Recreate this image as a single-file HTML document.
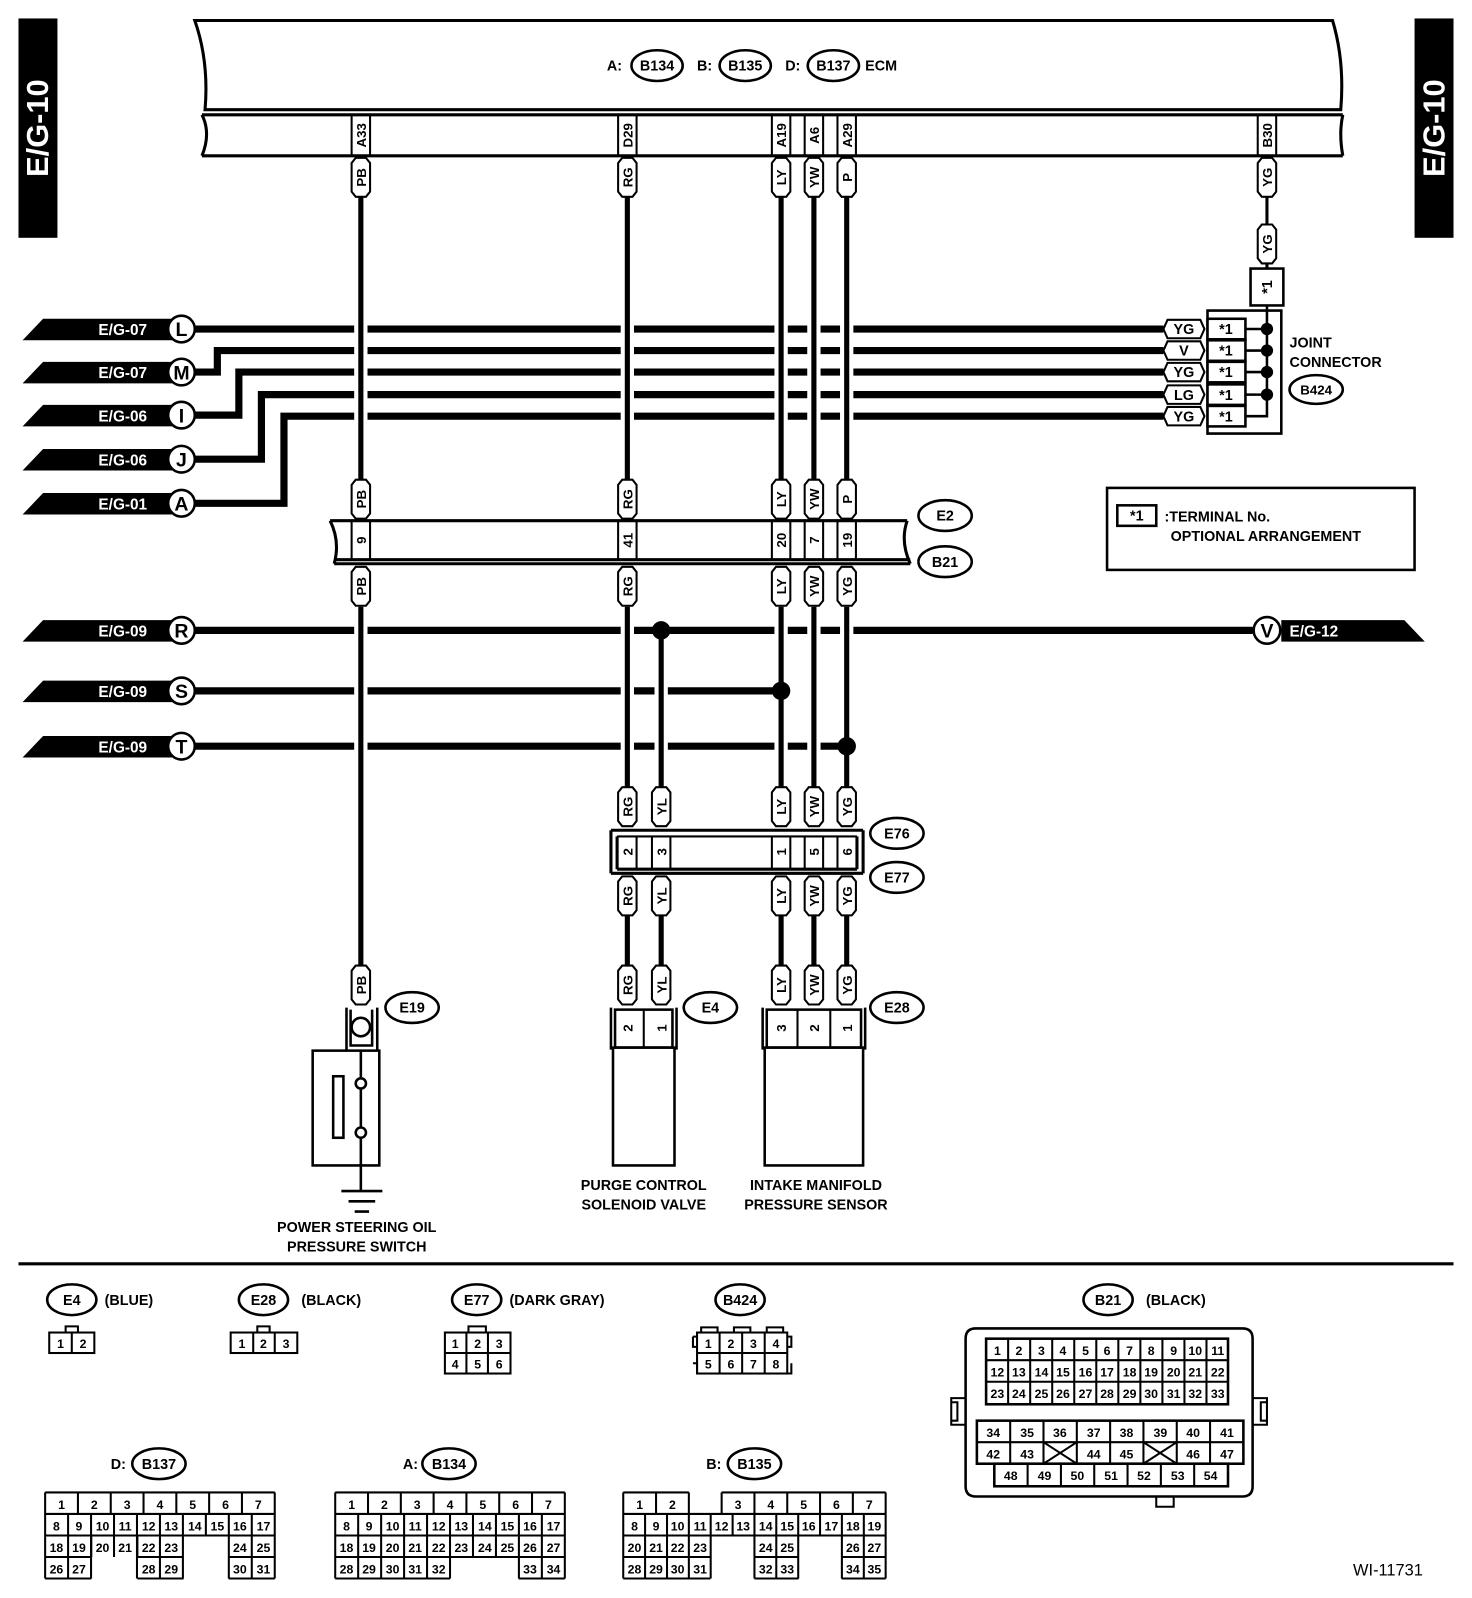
<!DOCTYPE html>
<html><head><meta charset="utf-8"><style>
html,body{margin:0;padding:0;background:#fff}
svg{display:block}
text{font-family:"Liberation Sans",sans-serif;font-weight:bold;fill:#000}
</style></head><body>
<svg width="1472" height="1598" viewBox="0 0 1436 1559" xmlns="http://www.w3.org/2000/svg">
<defs>
<path id="tg" d="M-9,-14 L-5,-19 L5,-19 L9,-14 L9,14 L5,19 L-5,19 L-9,14 Z" fill="#fff" stroke="#000" stroke-width="2"/>
<path id="ht" d="M-16,-9 L16,-9 L20,0 L16,9 L-16,9 L-20,0 Z" fill="#fff" stroke="#000" stroke-width="2"/>
</defs>

<rect x="18" y="18" width="38" height="214" fill="#000"/>
<text transform="translate(37,125) rotate(-90)" text-anchor="middle" dy="10" font-size="30" style="fill:#fff">E/G-10</text>
<rect x="1380" y="18" width="38" height="214" fill="#000"/>
<text transform="translate(1399,125) rotate(-90)" text-anchor="middle" dy="10" font-size="30" style="fill:#fff">E/G-10</text>

<path d="M190,20 L1300,20 Q1312,60 1308,107 L200,107 Q204,60 190,20 Z" fill="#fff" stroke="#000" stroke-width="3"/>
<path d="M197,112 L1310,112 M197,152 L1310,152 M197,112 Q206,130 197,152 M1310,112 Q1306,130 1310,152" fill="none" stroke="#000" stroke-width="3"/>
<g font-size="14">
<text x="592" y="69">A:</text>
<ellipse cx="641" cy="64" rx="25" ry="15" fill="#fff" stroke="#000" stroke-width="2.5"/><text x="641" y="69" text-anchor="middle">B134</text>
<text x="680" y="69">B:</text>
<ellipse cx="727" cy="64" rx="25" ry="15" fill="#fff" stroke="#000" stroke-width="2.5"/><text x="727" y="69" text-anchor="middle">B135</text>
<text x="766" y="69">D:</text>
<ellipse cx="813" cy="64" rx="25" ry="15" fill="#fff" stroke="#000" stroke-width="2.5"/><text x="813" y="69" text-anchor="middle">B137</text>
<text x="844" y="69">ECM</text>
</g>
<g fill="none" stroke="#000" stroke-width="2">
<path d="M343,112V152M361,112V152M603,112V152M621,112V152M753,112V152M771,112V152M785,112V152M803,112V152M817,112V152M835,112V152M1227,112V152M1245,112V152"/>
</g>
<g font-size="13">
<text transform="translate(352,132) rotate(-90)" text-anchor="middle" dy="5">A33</text>
<text transform="translate(612,132) rotate(-90)" text-anchor="middle" dy="5">D29</text>
<text transform="translate(762,132) rotate(-90)" text-anchor="middle" dy="5">A19</text>
<text transform="translate(794,132) rotate(-90)" text-anchor="middle" dy="5">A6</text>
<text transform="translate(826,132) rotate(-90)" text-anchor="middle" dy="5">A29</text>
<text transform="translate(1236,132) rotate(-90)" text-anchor="middle" dy="5">B30</text>
</g>

<g stroke="#000" stroke-width="7" fill="none">
<path d="M190,321H1135"/>
<path d="M190,363H212V342H1135"/>
<path d="M190,405H233V363H1135"/>
<path d="M190,448H255V385H1135"/>
<path d="M190,491H277V406H1135"/>
<path d="M190,615H1222"/>
<path d="M190,674H762"/>
<path d="M190,728H826"/>
</g>
<g stroke="#000" stroke-width="3" fill="none">
<path d="M212,363V342M233,405V363M255,448V385M277,491V406"/>
</g>

<g stroke="#fff" stroke-width="13" fill="none">
<path d="M352,200V460M612,200V460M762,200V460M794,200V460M826,200V460"/>
<path d="M352,600V935M612,600V760M762,600V760M794,600V760M826,600V760M645,630V760"/>
</g>
<g stroke="#000" stroke-width="5" fill="none">
<path d="M352,192V468M612,192V468M762,192V468M794,192V468M826,192V468"/>
<path d="M352,592V942M612,592V768M762,592V768M794,592V768M826,592V768M645,615V768"/>
<path d="M612,893V942M645,893V942M762,893V942M794,893V942M826,893V942"/>
</g>
<path d="M1236,192V218M1236,258V262" stroke="#000" stroke-width="3"/>
<g fill="#000">
<circle cx="645" cy="615" r="9"/><circle cx="762" cy="674" r="9"/><circle cx="826" cy="728" r="9"/>
</g>

<g>
<polygon points="22,332 42,311 168,311 168,332" fill="#000"/>
<polygon points="22,374 42,353 168,353 168,374" fill="#000"/>
<polygon points="22,416 42,395 168,395 168,416" fill="#000"/>
<polygon points="22,459 42,438 168,438 168,459" fill="#000"/>
<polygon points="22,502 42,481 168,481 168,502" fill="#000"/>
<polygon points="22,626 42,605 168,605 168,626" fill="#000"/>
<polygon points="22,685 42,664 168,664 168,685" fill="#000"/>
<polygon points="22,739 42,718 168,718 168,739" fill="#000"/>
<polygon points="1250,605 1370,605 1390,626 1250,626" fill="#000"/>
</g>
<g font-size="15">
<text x="96" y="327" style="fill:#fff">E/G-07</text>
<text x="96" y="369" style="fill:#fff">E/G-07</text>
<text x="96" y="411" style="fill:#fff">E/G-06</text>
<text x="96" y="454" style="fill:#fff">E/G-06</text>
<text x="96" y="497" style="fill:#fff">E/G-01</text>
<text x="96" y="621" style="fill:#fff">E/G-09</text>
<text x="96" y="680" style="fill:#fff">E/G-09</text>
<text x="96" y="734" style="fill:#fff">E/G-09</text>
<text x="1258" y="621" style="fill:#fff">E/G-12</text>
</g>
<g fill="#fff" stroke="#000" stroke-width="2.5">
<circle cx="177" cy="321" r="13"/><circle cx="177" cy="363" r="13"/><circle cx="177" cy="405" r="13"/><circle cx="177" cy="448" r="13"/><circle cx="177" cy="491" r="13"/>
<circle cx="177" cy="615" r="13"/><circle cx="177" cy="674" r="13"/><circle cx="177" cy="728" r="13"/><circle cx="1236" cy="615" r="13"/>
</g>
<g font-size="19" text-anchor="middle">
<text x="177" y="328">L</text><text x="177" y="370">M</text><text x="177" y="412">I</text><text x="177" y="455">J</text><text x="177" y="498">A</text>
<text x="177" y="622">R</text><text x="177" y="681">S</text><text x="177" y="735">T</text><text x="1236" y="622">V</text>
</g>

<g fill="none" stroke="#000" stroke-width="2.5">
<rect x="1220" y="262" width="32" height="36" fill="#fff"/>
<path d="M1178,303H1250V423H1178Z"/>
<path d="M1215,321H1236M1215,342H1236M1215,363H1236M1215,385H1236M1215,406H1236V298"/>
<rect x="1178" y="311" width="37" height="20" fill="#fff"/><rect x="1178" y="332" width="37" height="20" fill="#fff"/><rect x="1178" y="353" width="37" height="20" fill="#fff"/><rect x="1178" y="375" width="37" height="20" fill="#fff"/><rect x="1178" y="396" width="37" height="20" fill="#fff"/>
</g>
<g fill="#000"><circle cx="1236" cy="321" r="6"/><circle cx="1236" cy="342" r="6"/><circle cx="1236" cy="363" r="6"/><circle cx="1236" cy="385" r="6"/></g>
<use href="#ht" x="1155" y="321"/><use href="#ht" x="1155" y="342"/><use href="#ht" x="1155" y="363"/><use href="#ht" x="1155" y="385"/><use href="#ht" x="1155" y="406"/>
<g font-size="14" text-anchor="middle">
<text x="1155" y="326">YG</text><text x="1155" y="347">V</text><text x="1155" y="368">YG</text><text x="1155" y="390">LG</text><text x="1155" y="411">YG</text>
<text x="1196" y="326">*1</text><text x="1196" y="347">*1</text><text x="1196" y="368">*1</text><text x="1196" y="390">*1</text><text x="1196" y="411">*1</text>
<text transform="translate(1236,280) rotate(-90)" dy="5">*1</text>
</g>
<text x="1258" y="339" font-size="14">JOINT</text>
<text x="1258" y="358" font-size="14">CONNECTOR</text>
<ellipse cx="1284" cy="380" rx="26" ry="14" fill="#fff" stroke="#000" stroke-width="2.5"/>
<text x="1284" y="385" font-size="13" text-anchor="middle">B424</text>

<rect x="1080" y="476" width="300" height="80" fill="#fff" stroke="#000" stroke-width="2.5"/>
<rect x="1090" y="493" width="38" height="20" fill="#fff" stroke="#000" stroke-width="2.5"/>
<text x="1109" y="508" font-size="14" text-anchor="middle">*1</text>
<text x="1136" y="509" font-size="14">:TERMINAL No.</text>
<text x="1142" y="528" font-size="14">OPTIONAL ARRANGEMENT</text>

<g fill="none" stroke="#000" stroke-width="3">
<path d="M322,508H885M326,546H888M326,550H888M322,508Q332,528 326,550M885,508Q878,528 888,550"/>
<path stroke-width="2" d="M343,508V546M361,508V546M603,508V546M621,508V546M753,508V546M771,508V546M785,508V546M803,508V546M817,508V546M835,508V546"/>
</g>
<g font-size="13">
<text transform="translate(352,527) rotate(-90)" text-anchor="middle" dy="5">9</text>
<text transform="translate(612,527) rotate(-90)" text-anchor="middle" dy="5">41</text>
<text transform="translate(762,527) rotate(-90)" text-anchor="middle" dy="5">20</text>
<text transform="translate(794,527) rotate(-90)" text-anchor="middle" dy="5">7</text>
<text transform="translate(826,527) rotate(-90)" text-anchor="middle" dy="5">19</text>
</g>
<g fill="#fff" stroke="#000" stroke-width="2.5">
<ellipse cx="922" cy="503" rx="26" ry="15"/><ellipse cx="922" cy="548" rx="26" ry="15"/>
<ellipse cx="875" cy="813" rx="26" ry="15"/><ellipse cx="875" cy="856" rx="26" ry="15"/>
<ellipse cx="693" cy="983" rx="26" ry="15"/><ellipse cx="875" cy="983" rx="26" ry="15"/><ellipse cx="402" cy="983" rx="26" ry="15"/>
</g>
<g font-size="14" text-anchor="middle">
<text x="922" y="508">E2</text><text x="922" y="553">B21</text>
<text x="875" y="818">E76</text><text x="875" y="861">E77</text>
<text x="693" y="988">E4</text><text x="875" y="988">E28</text><text x="402" y="988">E19</text>
</g>

<g fill="none" stroke="#000" stroke-width="3">
<path d="M596,810H842M596,852H842M602,848H836M596,810V852M842,810V852M602,816V848M836,816V848"/>
<path stroke-width="2" d="M602,816H836M621,816V848M636,816V848M654,816V848M753,816V848M771,816V848M785,816V848M803,816V848M817,816V848"/>
</g>
<g font-size="13">
<text transform="translate(612,831) rotate(-90)" text-anchor="middle" dy="5">2</text>
<text transform="translate(645,831) rotate(-90)" text-anchor="middle" dy="5">3</text>
<text transform="translate(762,831) rotate(-90)" text-anchor="middle" dy="5">1</text>
<text transform="translate(794,831) rotate(-90)" text-anchor="middle" dy="5">5</text>
<text transform="translate(826,831) rotate(-90)" text-anchor="middle" dy="5">6</text>
</g>

<g>
<use href="#tg" x="352" y="173"/><use href="#tg" x="612" y="173"/><use href="#tg" x="762" y="173"/><use href="#tg" x="794" y="173"/><use href="#tg" x="826" y="173"/><use href="#tg" x="1236" y="173"/>
<use href="#tg" x="1236" y="238"/>
<use href="#tg" x="352" y="487"/><use href="#tg" x="612" y="487"/><use href="#tg" x="762" y="487"/><use href="#tg" x="794" y="487"/><use href="#tg" x="826" y="487"/>
<use href="#tg" x="352" y="572"/><use href="#tg" x="612" y="572"/><use href="#tg" x="762" y="572"/><use href="#tg" x="794" y="572"/><use href="#tg" x="826" y="572"/>
<use href="#tg" x="612" y="787"/><use href="#tg" x="645" y="787"/><use href="#tg" x="762" y="787"/><use href="#tg" x="794" y="787"/><use href="#tg" x="826" y="787"/>
<use href="#tg" x="612" y="874"/><use href="#tg" x="645" y="874"/><use href="#tg" x="762" y="874"/><use href="#tg" x="794" y="874"/><use href="#tg" x="826" y="874"/>
<use href="#tg" x="352" y="961"/><use href="#tg" x="612" y="961"/><use href="#tg" x="645" y="961"/><use href="#tg" x="762" y="961"/><use href="#tg" x="794" y="961"/><use href="#tg" x="826" y="961"/>
</g>
<g font-size="13" text-anchor="middle">
<text transform="translate(352,173) rotate(-90)" dy="5">PB</text><text transform="translate(612,173) rotate(-90)" dy="5">RG</text><text transform="translate(762,173) rotate(-90)" dy="5">LY</text><text transform="translate(794,173) rotate(-90)" dy="5">YW</text><text transform="translate(826,173) rotate(-90)" dy="5">P</text><text transform="translate(1236,173) rotate(-90)" dy="5">YG</text>
<text transform="translate(1236,238) rotate(-90)" dy="5">YG</text>
<text transform="translate(352,487) rotate(-90)" dy="5">PB</text><text transform="translate(612,487) rotate(-90)" dy="5">RG</text><text transform="translate(762,487) rotate(-90)" dy="5">LY</text><text transform="translate(794,487) rotate(-90)" dy="5">YW</text><text transform="translate(826,487) rotate(-90)" dy="5">P</text>
<text transform="translate(352,572) rotate(-90)" dy="5">PB</text><text transform="translate(612,572) rotate(-90)" dy="5">RG</text><text transform="translate(762,572) rotate(-90)" dy="5">LY</text><text transform="translate(794,572) rotate(-90)" dy="5">YW</text><text transform="translate(826,572) rotate(-90)" dy="5">YG</text>
<text transform="translate(612,787) rotate(-90)" dy="5">RG</text><text transform="translate(645,787) rotate(-90)" dy="5">YL</text><text transform="translate(762,787) rotate(-90)" dy="5">LY</text><text transform="translate(794,787) rotate(-90)" dy="5">YW</text><text transform="translate(826,787) rotate(-90)" dy="5">YG</text>
<text transform="translate(612,874) rotate(-90)" dy="5">RG</text><text transform="translate(645,874) rotate(-90)" dy="5">YL</text><text transform="translate(762,874) rotate(-90)" dy="5">LY</text><text transform="translate(794,874) rotate(-90)" dy="5">YW</text><text transform="translate(826,874) rotate(-90)" dy="5">YG</text>
<text transform="translate(352,961) rotate(-90)" dy="5">PB</text><text transform="translate(612,961) rotate(-90)" dy="5">RG</text><text transform="translate(645,961) rotate(-90)" dy="5">YL</text><text transform="translate(762,961) rotate(-90)" dy="5">LY</text><text transform="translate(794,961) rotate(-90)" dy="5">YW</text><text transform="translate(826,961) rotate(-90)" dy="5">YG</text>
</g>

<g fill="none" stroke="#000" stroke-width="2.5">
<path d="M338,983V1024M368,983V1024M342,985V1020H363V985"/>
<circle cx="352" cy="1002" r="9"/>
<rect x="305" y="1025" width="65" height="112" fill="#fff"/>
<rect x="325" y="1050" width="10" height="60"/>
<path d="M352,1025V1051M352,1063V1099M352,1111V1162M333,1162H373M340,1172H366M346,1182H360"/>
<circle cx="352" cy="1057" r="5" fill="#fff"/><circle cx="352" cy="1105" r="5" fill="#fff"/>
</g>
<g font-size="14" text-anchor="middle">
<text x="348" y="1202">POWER STEERING OIL</text><text x="348" y="1221">PRESSURE SWITCH</text>
<text x="628" y="1161">PURGE CONTROL</text><text x="628" y="1180">SOLENOID VALVE</text>
<text x="796" y="1161">INTAKE MANIFOLD</text><text x="796" y="1180">PRESSURE SENSOR</text>
</g>

<g fill="none" stroke="#000" stroke-width="2.5">
<path d="M596,983V1024M660,983V1024"/>
<rect x="600" y="985" width="56" height="37"/>
<path d="M628,985V1022" stroke-width="2"/>
<rect x="598" y="1022" width="60" height="115"/>
<path d="M744,983V1024M844,983V1024"/>
<rect x="748" y="985" width="92" height="37"/>
<path d="M778,985V1022M810,985V1022" stroke-width="2"/>
<rect x="746" y="1022" width="96" height="115"/>
</g>
<g font-size="13">
<text transform="translate(612,1003) rotate(-90)" text-anchor="middle" dy="5">2</text>
<text transform="translate(645,1003) rotate(-90)" text-anchor="middle" dy="5">1</text>
<text transform="translate(762,1003) rotate(-90)" text-anchor="middle" dy="5">3</text>
<text transform="translate(794,1003) rotate(-90)" text-anchor="middle" dy="5">2</text>
<text transform="translate(826,1003) rotate(-90)" text-anchor="middle" dy="5">1</text>
</g>

<line x1="18" y1="1233" x2="1418" y2="1233" stroke="#000" stroke-width="3"/>

<g fill="#fff" stroke="#000" stroke-width="2.5">
<ellipse cx="70" cy="1268" rx="24" ry="15"/><ellipse cx="257" cy="1268" rx="24" ry="15"/><ellipse cx="465" cy="1268" rx="24" ry="15"/><ellipse cx="722" cy="1268" rx="24" ry="15"/><ellipse cx="1081" cy="1268" rx="24" ry="15"/>
<ellipse cx="155" cy="1428" rx="26" ry="15"/><ellipse cx="438" cy="1428" rx="26" ry="15"/><ellipse cx="736" cy="1428" rx="26" ry="15"/>
</g>
<g font-size="14">
<text x="70" y="1273" text-anchor="middle">E4</text><text x="102" y="1273">(BLUE)</text>
<text x="257" y="1273" text-anchor="middle">E28</text><text x="294" y="1273">(BLACK)</text>
<text x="465" y="1273" text-anchor="middle">E77</text><text x="497" y="1273">(DARK GRAY)</text>
<text x="722" y="1273" text-anchor="middle">B424</text>
<text x="1081" y="1273" text-anchor="middle">B21</text><text x="1118" y="1273">(BLACK)</text>
<text x="155" y="1433" text-anchor="middle">B137</text><text x="108" y="1433">D:</text>
<text x="438" y="1433" text-anchor="middle">B134</text><text x="393" y="1433">A:</text>
<text x="736" y="1433" text-anchor="middle">B135</text><text x="689" y="1433">B:</text>
<text x="1320" y="1537" font-size="16" style="font-weight:normal">WI-11731</text>
</g>

<g fill="none" stroke="#000" stroke-width="2">
<rect x="48" y="1300" width="44" height="20"/><path d="M70,1300V1320M64,1300V1294H76V1300"/>
<rect x="225" y="1300" width="65" height="20"/><path d="M247,1300V1320M268,1300V1320M251,1300V1294H263V1300"/>
<rect x="434" y="1300" width="64" height="40"/><path d="M434,1320H498M455,1300V1340M476,1300V1340M457,1300V1294H474V1300"/>
<rect x="680" y="1300" width="88" height="40"/><path d="M680,1320H768M702,1300V1340M724,1300V1340M746,1300V1340M676,1304H680M676,1304V1314H680M768,1304H772V1314H768M676,1330H680V1340M772,1330V1340H768M684,1300V1295H700V1300M716,1300V1295H732V1300M748,1300V1295H764V1300"/>
<path d="M952,1296H1212Q1222,1296 1222,1306V1450Q1222,1460 1212,1460H952Q942,1460 942,1450V1306Q942,1296 952,1296Z" stroke-width="2.5"/>
<path d="M942,1364H928V1390H942M928,1368H934V1386H928M1222,1364H1236V1390H1222M1236,1368H1230V1386H1236M1128,1460V1470H1145V1460"/>
<rect x="962" y="1306" width="236" height="64" stroke-width="2.5"/>
<path d="M962,1327H1198M962,1348H1198M983.5,1306V1370M1005,1306V1370M1026.5,1306V1370M1048,1306V1370M1069.5,1306V1370M1091,1306V1370M1112.5,1306V1370M1134,1306V1370M1155.5,1306V1370M1177,1306V1370"/>
<rect x="953" y="1386" width="260" height="42" stroke-width="2.5"/>
<path d="M953,1407H1213M985.5,1386V1428M1018,1386V1428M1050.5,1386V1428M1083,1386V1428M1115.5,1386V1428M1148,1386V1428M1180.5,1386V1428M1018,1407L1050.5,1428M1050.5,1407L1018,1428M1115.5,1407L1148,1428M1148,1407L1115.5,1428"/>
<rect x="970" y="1428" width="228" height="22" stroke-width="2.5"/>
<path d="M1002.5,1428V1450M1035,1428V1450M1067.5,1428V1450M1100,1428V1450M1132.5,1428V1450M1165,1428V1450"/>
</g>
<g font-size="12" text-anchor="middle">
<text x="59" y="1315">1</text><text x="81" y="1315">2</text>
<text x="236" y="1315">1</text><text x="257" y="1315">2</text><text x="279" y="1315">3</text>
<text x="444" y="1315">1</text><text x="466" y="1315">2</text><text x="487" y="1315">3</text><text x="444" y="1335">4</text><text x="466" y="1335">5</text><text x="487" y="1335">6</text>
<text x="691" y="1315">1</text><text x="713" y="1315">2</text><text x="735" y="1315">3</text><text x="757" y="1315">4</text><text x="691" y="1335">5</text><text x="713" y="1335">6</text><text x="735" y="1335">7</text><text x="757" y="1335">8</text>
<text x="973" y="1322">1</text><text x="994" y="1322">2</text><text x="1016" y="1322">3</text><text x="1037" y="1322">4</text><text x="1059" y="1322">5</text><text x="1080" y="1322">6</text><text x="1102" y="1322">7</text><text x="1123" y="1322">8</text><text x="1145" y="1322">9</text><text x="1166" y="1322">10</text><text x="1188" y="1322">11</text>
<text x="973" y="1343">12</text><text x="994" y="1343">13</text><text x="1016" y="1343">14</text><text x="1037" y="1343">15</text><text x="1059" y="1343">16</text><text x="1080" y="1343">17</text><text x="1102" y="1343">18</text><text x="1123" y="1343">19</text><text x="1145" y="1343">20</text><text x="1166" y="1343">21</text><text x="1188" y="1343">22</text>
<text x="973" y="1364">23</text><text x="994" y="1364">24</text><text x="1016" y="1364">25</text><text x="1037" y="1364">26</text><text x="1059" y="1364">27</text><text x="1080" y="1364">28</text><text x="1102" y="1364">29</text><text x="1123" y="1364">30</text><text x="1145" y="1364">31</text><text x="1166" y="1364">32</text><text x="1188" y="1364">33</text>
<text x="969" y="1402">34</text><text x="1002" y="1402">35</text><text x="1034" y="1402">36</text><text x="1067" y="1402">37</text><text x="1099" y="1402">38</text><text x="1132" y="1402">39</text><text x="1164" y="1402">40</text><text x="1197" y="1402">41</text>
<text x="969" y="1423">42</text><text x="1002" y="1423">43</text><text x="1067" y="1423">44</text><text x="1099" y="1423">45</text><text x="1164" y="1423">46</text><text x="1197" y="1423">47</text>
<text x="986" y="1444">48</text><text x="1019" y="1444">49</text><text x="1051" y="1444">50</text><text x="1084" y="1444">51</text><text x="1116" y="1444">52</text><text x="1149" y="1444">53</text><text x="1181" y="1444">54</text>
</g>

<g fill="none" stroke="#000" stroke-width="2">
<path d="M44,1456H268M44,1456V1540M268,1456V1540M44,1477H268M44,1498H268M44,1519H89M134,1519H179M223,1519H268M44,1540H89M134,1540H179M223,1540H268" />
<path d="M76,1456V1477M108,1456V1477M140,1456V1477M172,1456V1477M204,1456V1477M236,1456V1477"/>
<path d="M66.4,1477V1540M88.8,1477V1540M111.2,1477V1519M133.6,1477V1540M156,1477V1540M178.4,1477V1540M200.8,1477V1498M223.2,1477V1540M245.6,1477V1540"/>
<path d="M134,1498V1519M89,1498V1519" />
</g>
<g font-size="12" text-anchor="middle">
<text x="60" y="1472">1</text><text x="92" y="1472">2</text><text x="124" y="1472">3</text><text x="156" y="1472">4</text><text x="188" y="1472">5</text><text x="220" y="1472">6</text><text x="252" y="1472">7</text>
<text x="55" y="1493">8</text><text x="77" y="1493">9</text><text x="100" y="1493">10</text><text x="122" y="1493">11</text><text x="145" y="1493">12</text><text x="167" y="1493">13</text><text x="190" y="1493">14</text><text x="212" y="1493">15</text><text x="234" y="1493">16</text><text x="257" y="1493">17</text>
<text x="55" y="1514">18</text><text x="77" y="1514">19</text><text x="100" y="1514">20</text><text x="122" y="1514">21</text><text x="145" y="1514">22</text><text x="167" y="1514">23</text><text x="234" y="1514">24</text><text x="257" y="1514">25</text>
<text x="55" y="1535">26</text><text x="77" y="1535">27</text><text x="145" y="1535">28</text><text x="167" y="1535">29</text><text x="234" y="1535">30</text><text x="257" y="1535">31</text>
</g>

<g fill="none" stroke="#000" stroke-width="2">
<path d="M327,1456H551M327,1456V1540M551,1456V1540M327,1477H551M327,1498H551M327,1519H551M327,1540H439M506,1540H551"/>
<path d="M359,1456V1477M391,1456V1477M423,1456V1477M455,1456V1477M487,1456V1477M519,1456V1477"/>
<path d="M349.4,1477V1540M371.8,1477V1540M394.2,1477V1540M416.6,1477V1540M439,1477V1540M461.4,1477V1519M483.8,1477V1519M506.2,1477V1540M528.6,1477V1540"/>
</g>
<g font-size="12" text-anchor="middle">
<text x="343" y="1472">1</text><text x="375" y="1472">2</text><text x="407" y="1472">3</text><text x="439" y="1472">4</text><text x="471" y="1472">5</text><text x="503" y="1472">6</text><text x="535" y="1472">7</text>
<text x="338" y="1493">8</text><text x="360" y="1493">9</text><text x="383" y="1493">10</text><text x="405" y="1493">11</text><text x="428" y="1493">12</text><text x="450" y="1493">13</text><text x="473" y="1493">14</text><text x="495" y="1493">15</text><text x="517" y="1493">16</text><text x="540" y="1493">17</text>
<text x="338" y="1514">18</text><text x="360" y="1514">19</text><text x="383" y="1514">20</text><text x="405" y="1514">21</text><text x="428" y="1514">22</text><text x="450" y="1514">23</text><text x="473" y="1514">24</text><text x="495" y="1514">25</text><text x="517" y="1514">26</text><text x="540" y="1514">27</text>
<text x="338" y="1535">28</text><text x="360" y="1535">29</text><text x="383" y="1535">30</text><text x="405" y="1535">31</text><text x="428" y="1535">32</text><text x="517" y="1535">33</text><text x="540" y="1535">34</text>
</g>

<g fill="none" stroke="#000" stroke-width="2">
<path d="M608,1456H672M704,1456H864M608,1456V1540M864,1456V1540M608,1477H864M608,1498H864M608,1519H693M736,1519H779M821,1519H864M608,1540H693M736,1540H779M821,1540H864"/>
<path d="M640,1456V1477M672,1456V1477M704,1456V1477M736,1456V1477M768,1456V1477M800,1456V1477M832,1456V1477"/>
<path d="M629.3,1477V1540M650.7,1477V1540M672,1477V1540M693.3,1477V1540M714.7,1477V1498M736,1477V1540M757.3,1477V1540M778.7,1477V1540M800,1477V1498M821.3,1477V1540M842.7,1477V1540"/>
</g>
<g font-size="12" text-anchor="middle">
<text x="624" y="1472">1</text><text x="656" y="1472">2</text><text x="720" y="1472">3</text><text x="752" y="1472">4</text><text x="784" y="1472">5</text><text x="816" y="1472">6</text><text x="848" y="1472">7</text>
<text x="619" y="1493">8</text><text x="640" y="1493">9</text><text x="661" y="1493">10</text><text x="683" y="1493">11</text><text x="704" y="1493">12</text><text x="725" y="1493">13</text><text x="747" y="1493">14</text><text x="768" y="1493">15</text><text x="789" y="1493">16</text><text x="811" y="1493">17</text><text x="832" y="1493">18</text><text x="853" y="1493">19</text>
<text x="619" y="1514">20</text><text x="640" y="1514">21</text><text x="661" y="1514">22</text><text x="683" y="1514">23</text><text x="747" y="1514">24</text><text x="768" y="1514">25</text><text x="832" y="1514">26</text><text x="853" y="1514">27</text>
<text x="619" y="1535">28</text><text x="640" y="1535">29</text><text x="661" y="1535">30</text><text x="683" y="1535">31</text><text x="747" y="1535">32</text><text x="768" y="1535">33</text><text x="832" y="1535">34</text><text x="853" y="1535">35</text>
</g>
</svg>
</body></html>
